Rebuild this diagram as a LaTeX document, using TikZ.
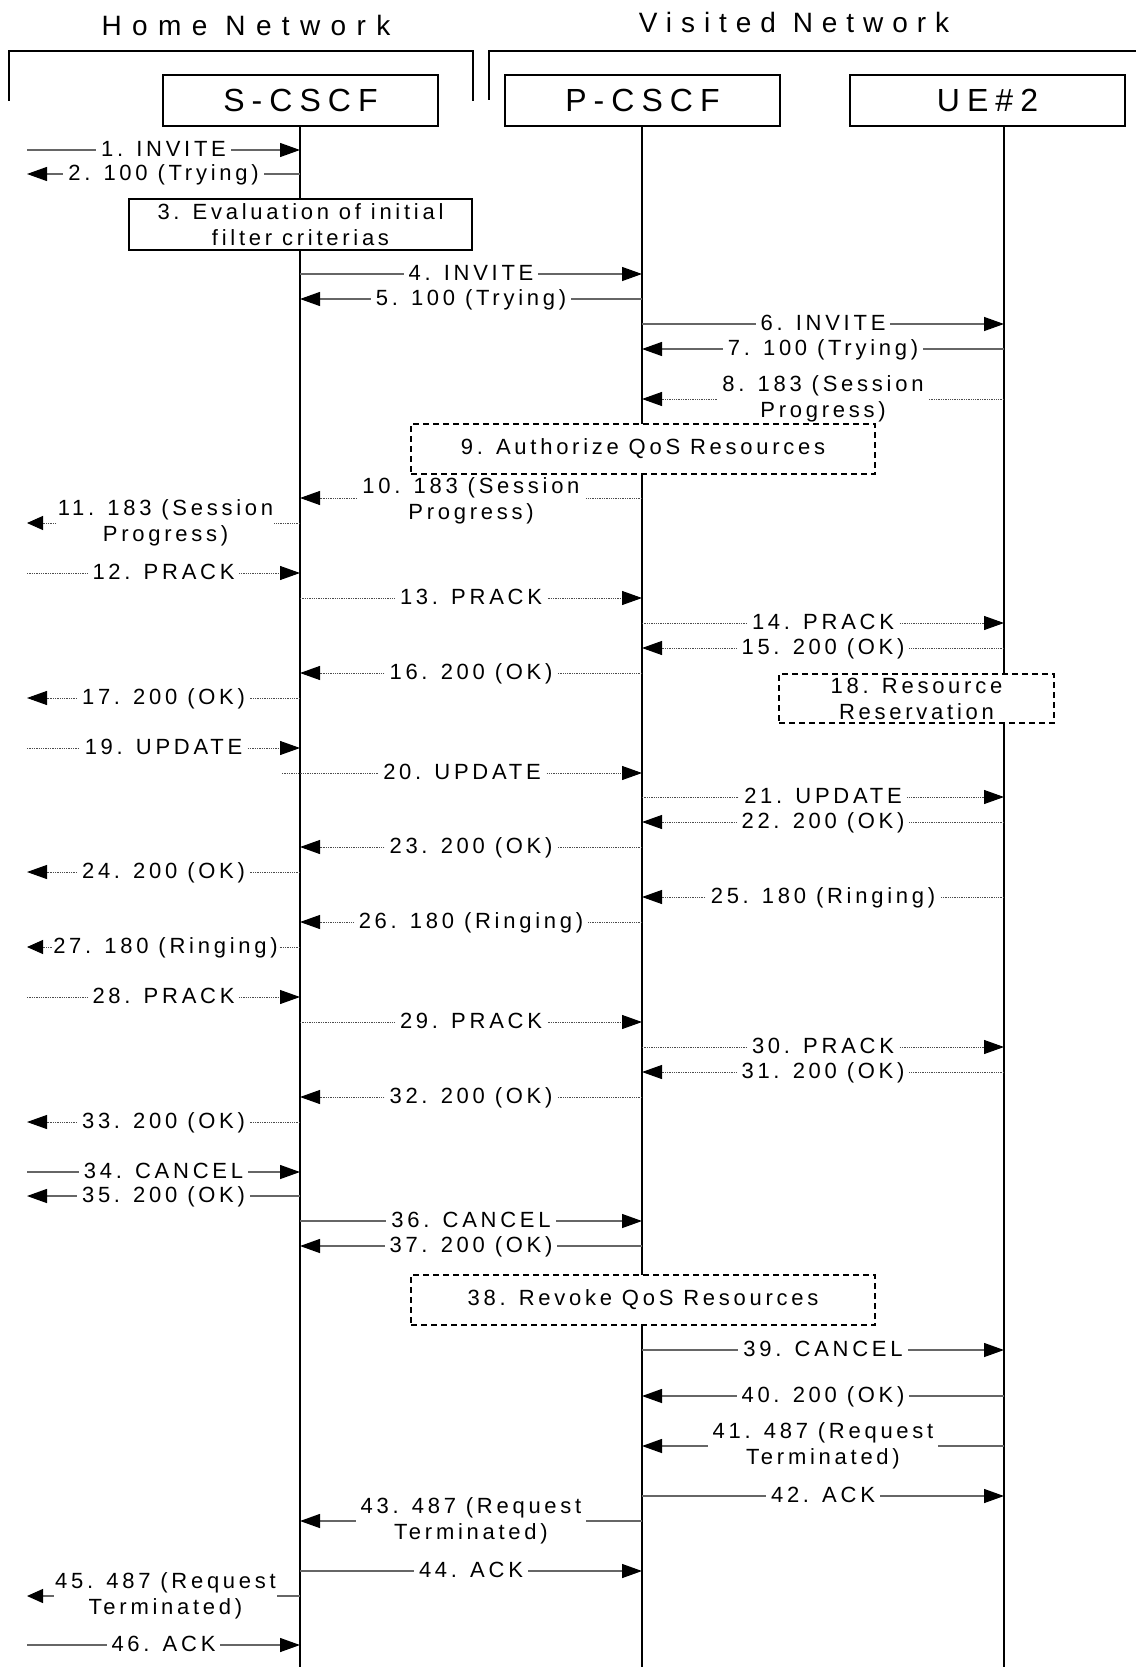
\documentclass[tikz,border=0pt]{standalone}
\usepackage{fontspec}
\setmainfont{Liberation Sans}
\newfontfamily\lblfont[LetterSpace=17]{Liberation Sans}
\newfontfamily\hdfont[LetterSpace=22]{Liberation Sans}
\newfontfamily\homefont[LetterSpace=37]{Liberation Sans}
\newfontfamily\visfont[LetterSpace=32]{Liberation Sans}
\usetikzlibrary{arrows.meta}
\def\sqL{27}
\def\sqS{300}
\def\sqP{642}
\def\sqU{1004}
\newcommand\sqmsg[7][lbl]{%
  \coordinate (m#2a) at (#4,#3);
  \coordinate (m#2b) at (#5,#3);
  \draw[#6] (m#2a) -- node[#1] (m#2l) {#7} (m#2b);
}
\tikzset{
  lblbase/.style={fill=white, text=black, inner xsep=5pt, inner ysep=0pt, font=\lblfont\fontsize{22}{26}\selectfont},
  lbl/.style={lblbase, text height=16.5pt, text depth=4.5pt},
  lbltwo/.style={lblbase, align=center},
  tipN/.style={-{Triangle[length=20pt,width=14pt,black]}},
  tipS/.style={-{Triangle[length=16pt,width=14pt,black]}},
  sol/.style={line width=1.3pt, black!60, tipN},
  dot/.style={line width=1pt, black!70, dash pattern=on 1.3pt off 1pt, tipN},
  hdbox/.style={draw, line width=2.2pt, minimum width=275pt, minimum height=51pt, inner sep=0pt, font=\hdfont\fontsize{32}{38}\selectfont},
  ttl/.style={inner sep=0pt},
  life/.style={line width=2.5pt},
  brk/.style={line width=2pt},
  actbox/.style={draw, line width=2pt, fill=white, inner sep=0pt, align=center, font=\lblfont\fontsize{22}{26}\selectfont},
  dbox/.style={actbox, dash pattern=on 6pt off 4pt},
}
\begin{document}
\begin{tikzpicture}[x=1pt, y=-1pt]
\useasboundingbox (0,0) rectangle (1136,1667);
% titles and brackets
\node[ttl, anchor=base, font=\homefont\fontsize{28}{32}\selectfont] (home) at (246,36) {Home Network};
\node[ttl, anchor=base, font=\visfont\fontsize{28}{32}\selectfont] (visited) at (794,33) {Visited Network};
\draw[brk] (9,100.7) -- (9,50.7) -- (473,50.7) -- (473,100.7);
\draw[brk] (489,100) -- (489,50.7) -- (1136,50.7);
% header boxes
\node[hdbox] (sc) at (300.5,100.5) {S-CSCF};
\node[hdbox] (pc) at (642.5,100.5) {P-CSCF};
\node[hdbox] (ue) at (987.5,100.5) {UE\#2};
% lifelines
\coordinate (sctop) at (\sqS,126);
\coordinate (scbot) at (\sqS,1667);
\coordinate (pctop) at (\sqP,126);
\coordinate (pcbot) at (\sqP,1667);
\coordinate (uetop) at (\sqU,126);
\coordinate (uebot) at (\sqU,1667);
\draw[life] (sctop) -- (scbot);
\draw[life] (pctop) -- (pcbot);
\draw[life] (uetop) -- (uebot);
% messages
\sqmsg{1}{150}{\sqL}{\sqS}{sol}{1. INVITE}
\sqmsg{2}{174}{\sqS}{\sqL}{sol}{2. 100 (Trying)}
\sqmsg{4}{274}{\sqS}{\sqP}{sol}{4. INVITE}
\sqmsg{5}{299}{\sqP}{\sqS}{sol}{5. 100 (Trying)}
\sqmsg{6}{324}{\sqP}{\sqU}{sol}{6. INVITE}
\sqmsg{7}{349}{\sqU}{\sqP}{sol}{7. 100 (Trying)}
\sqmsg[lbltwo]{8}{399}{\sqU}{\sqP}{dot}{8. 183 (Session\\Progress)}
\sqmsg[lbltwo,yshift=-3pt]{10}{498}{\sqP}{\sqS}{dot}{10. 183 (Session\\Progress)}
\sqmsg[lbltwo,inner xsep=1pt,xshift=2pt]{11}{523}{\sqS}{\sqL}{dot,tipS}{11. 183 (Session\\Progress)}
\sqmsg{12}{573}{\sqL}{\sqS}{dot}{12. PRACK}
\sqmsg{13}{598}{\sqS}{\sqP}{dot}{13. PRACK}
\sqmsg{14}{623}{\sqP}{\sqU}{dot}{14. PRACK}
\sqmsg{15}{648}{\sqU}{\sqP}{dot}{15. 200 (OK)}
\sqmsg{16}{673}{\sqP}{\sqS}{dot}{16. 200 (OK)}
\sqmsg{17}{698}{\sqS}{\sqL}{dot}{17. 200 (OK)}
\sqmsg{19}{748}{\sqL}{\sqS}{dot}{19. UPDATE}
\sqmsg{20}{773}{282}{\sqP}{dot}{20. UPDATE}
\sqmsg{21}{797}{\sqP}{\sqU}{dot}{21. UPDATE}
\sqmsg{22}{822}{\sqU}{\sqP}{dot}{22. 200 (OK)}
\sqmsg{23}{847}{\sqP}{\sqS}{dot}{23. 200 (OK)}
\sqmsg{24}{872}{\sqS}{\sqL}{dot}{24. 200 (OK)}
\sqmsg{25}{897}{\sqU}{\sqP}{dot}{25. 180 (Ringing)}
\sqmsg{26}{922}{\sqP}{\sqS}{dot}{26. 180 (Ringing)}
\sqmsg[lbl,inner xsep=1pt,xshift=2pt]{27}{947}{\sqS}{\sqL}{dot,tipS}{27. 180 (Ringing)}
\sqmsg{28}{997}{\sqL}{\sqS}{dot}{28. PRACK}
\sqmsg{29}{1022}{\sqS}{\sqP}{dot}{29. PRACK}
\sqmsg{30}{1047}{\sqP}{\sqU}{dot}{30. PRACK}
\sqmsg{31}{1072}{\sqU}{\sqP}{dot}{31. 200 (OK)}
\sqmsg{32}{1097}{\sqP}{\sqS}{dot}{32. 200 (OK)}
\sqmsg{33}{1122}{\sqS}{\sqL}{dot}{33. 200 (OK)}
\sqmsg{34}{1172}{\sqL}{\sqS}{sol}{34. CANCEL}
\sqmsg{35}{1196}{\sqS}{\sqL}{sol}{35. 200 (OK)}
\sqmsg{36}{1221}{\sqS}{\sqP}{sol}{36. CANCEL}
\sqmsg{37}{1246}{\sqP}{\sqS}{sol}{37. 200 (OK)}
\sqmsg{39}{1350}{\sqP}{\sqU}{sol}{39. CANCEL}
\sqmsg{40}{1396}{\sqU}{\sqP}{sol}{40. 200 (OK)}
\sqmsg[lbltwo]{41}{1446}{\sqU}{\sqP}{sol}{41. 487 (Request\\Terminated)}
\sqmsg{42}{1496}{\sqP}{\sqU}{sol}{42. ACK}
\sqmsg[lbltwo]{43}{1521}{\sqP}{\sqS}{sol}{43. 487 (Request\\Terminated)}
\sqmsg{44}{1571}{\sqS}{\sqP}{sol}{44. ACK}
\sqmsg[lbltwo,inner xsep=1pt,xshift=2pt]{45}{1596}{\sqS}{\sqL}{sol,tipS}{45. 487 (Request\\Terminated)}
\sqmsg{46}{1645}{\sqL}{\sqS}{sol}{46. ACK}
% activity boxes
\node[actbox, minimum width=343pt, minimum height=51pt] (b3) at (300.5,224.5) {3. Evaluation of initial\\filter criterias};
\node[dbox, minimum width=464pt, minimum height=50pt] (b9) at (643,449) {9. Authorize QoS Resources};
\node[dbox, minimum width=275pt, minimum height=49pt] (b18) at (916.5,698.5) {18. Resource\\Reservation};
\node[dbox, minimum width=464pt, minimum height=50pt] (b38) at (643,1300) {38. Revoke QoS Resources};
\end{tikzpicture}
\end{document}
